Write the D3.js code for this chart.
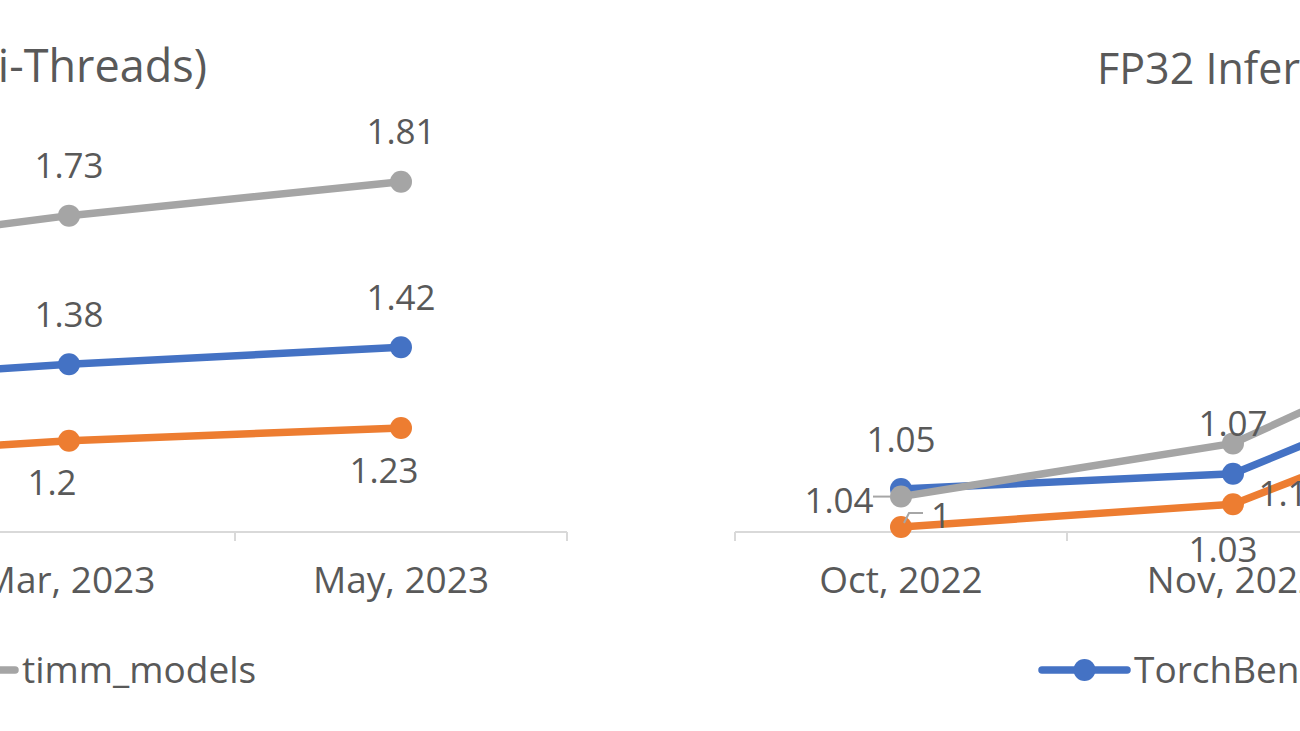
<!DOCTYPE html>
<html>
<head>
<meta charset="utf-8">
<script src="https://cdn.jsdelivr.net/npm/d3@7/dist/d3.min.js"></script>
<style>
  html, body { margin: 0; padding: 0; background: #fff; }
  svg { display: block; }
  text { font-family: "Open Sans", Lato, sans-serif; fill: #595959; }
</style>
</head>
<body>
<svg id="chart" width="1300" height="731"></svg>
<script>
// ---------------- DATA ----------------
const categories = ["Oct, 2022", "Nov, 2022", "Jan, 2023", "Mar, 2023", "May, 2023"];
const seriesNames = ["TorchBench", "HuggingFace", "timm_models"];

// Left chart: FP32 Inference Geomean Speedup (Single-Socket Multi-Threads)
const leftTitle = "FP32 Inference Geomean Speedup (Single-Socket Multi-Threads)";
const leftCats = ["Jan, 2023", "Mar, 2023", "May, 2023"];
const leftTorchBench = [1.33, 1.38, 1.42];
const leftHuggingFace = [1.15, 1.20, 1.23];
const leftTimm = [1.63, 1.73, 1.81];

// Right chart: FP32 Inference Geomean Speedup (Single-Core Single-Thread)
const rightTitle = "FP32 Inference Geomean Speedup (Single-Core Single-Thread)";
const rightCats = ["Oct, 2022", "Nov, 2022", "Jan, 2023"];
const rightTorchBench = [1.05, 1.07, 1.25];
const rightHuggingFace = [1.00, 1.03, 1.20];
const rightTimm = [1.04, 1.11, 1.31];

// ---------------- STYLE ----------------
const colors = { TorchBench: "#4472C4", HuggingFace: "#ED7D31", timm_models: "#A5A5A5" };
const textColor = "#595959";
const axisColor = "#D9D9D9";
const lineWidth = 7.5;
const markerR = 11;
const labelFont = 35, tickFont = 37, legendFont = 37, titleFontLeft = 45, titleFontRight = 43;

// label placement (dx, dy of label centre relative to point)
const above = { dx: 0, dy: -50 };
const belowOrange = { dx: -17, dy: 42 };
const leftPlacement = {
  TorchBench: [above, above, above],
  HuggingFace: [belowOrange, belowOrange, belowOrange],
  timm_models: [above, above, above]
};
const rightPlacement = {
  TorchBench: [above, above, above],
  HuggingFace: [
    { dx: 40, dy: -12, leader: [[3, -4], [8, -14], [22, -14]] },
    { dx: -10, dy: 45 },
    belowOrange
  ],
  timm_models: [
    { dx: -62, dy: 4, leader: [[-28, 0], [-10, 0]] },
    { dx: 60, dy: 50 },
    above
  ]
};

const svg = d3.select("#chart");

function drawChart(cfg) {
  const g = svg.append("g");
  const x = d3.scaleBand().domain(categories).range(cfg.xRange).paddingInner(0).paddingOuter(0);
  const y = d3.scaleLinear().domain(cfg.yDomain).range(cfg.yRange);
  const axisY = cfg.yRange[0];

  // title
  g.append("text")
    .attr("x", cfg.titleX).attr("y", cfg.titleY)
    .attr("text-anchor", cfg.titleAnchor)
    .style("font-size", cfg.titleFont + "px")
    .text(cfg.title);

  // category axis
  const axis = d3.axisBottom(x).tickSize(0).tickPadding(35);
  const ag = g.append("g").attr("transform", `translate(0,${axisY})`).call(axis);
  ag.select(".domain").remove();
  ag.selectAll("text").style("font-size", tickFont + "px").style("font-family", "Open Sans").attr("fill", textColor);
  g.append("line")
    .attr("x1", cfg.xRange[0]).attr("x2", cfg.xRange[1])
    .attr("y1", axisY).attr("y2", axisY)
    .attr("stroke", axisColor).attr("stroke-width", 2);
  const bounds = categories.map(c => x(c)).concat([x(categories[categories.length - 1]) + x.bandwidth()]);
  g.selectAll(".tk").data(bounds).enter().append("line")
    .attr("x1", d => d).attr("x2", d => d)
    .attr("y1", axisY).attr("y2", axisY + 9)
    .attr("stroke", axisColor).attr("stroke-width", 2);

  // series
  const series = seriesNames.map((name, i) => ({
    name,
    values: cfg.cats.map((c, j) => ({ cat: c, v: cfg.values[i][j] })),
    place: cfg.placement[name]
  }));
  const line = d3.line().x(d => x(d.cat) + x.bandwidth() / 2).y(d => y(d.v));

  series.forEach(s => {
    g.append("path").datum(s.values)
      .attr("d", line).attr("fill", "none")
      .attr("stroke", colors[s.name]).attr("stroke-width", lineWidth)
      .attr("stroke-linejoin", "round");
    g.selectAll(null).data(s.values).enter().append("circle")
      .attr("cx", d => x(d.cat) + x.bandwidth() / 2)
      .attr("cy", d => y(d.v))
      .attr("r", markerR).attr("fill", colors[s.name]);
  });

  // data labels
  series.forEach(s => {
    s.values.forEach((d, j) => {
      const p = s.place[j];
      const px = x(d.cat) + x.bandwidth() / 2, py = y(d.v);
      if (p.leader) {
        g.append("path")
          .attr("d", d3.line()(p.leader.map(q => [px + q[0], py + q[1]])))
          .attr("fill", "none").attr("stroke", "#A6A6A6").attr("stroke-width", 2);
      }
      g.append("text")
        .attr("x", px + p.dx).attr("y", py + p.dy)
        .attr("text-anchor", "middle").attr("dy", "0.36em")
        .style("font-size", labelFont + "px")
        .text(String(d.v));
    });
  });

  // legend
  const lg = g.append("g");
  const items = seriesNames.map(n => {
    const t = lg.append("text").style("font-size", legendFont + "px").attr("y", cfg.legendY + 13).text(n);
    return { name: n, t, w: t.node().getComputedTextLength() };
  });
  const lineLen = 85, gapText = 7, gapItem = 26;
  const xs = [];
  if (cfg.legendAnchor === "lastTextStart") {
    xs[items.length - 1] = cfg.legendX - gapText - lineLen;
    for (let k = items.length - 2; k >= 0; k--) {
      xs[k] = xs[k + 1] - gapItem - items[k].w - gapText - lineLen;
    }
  } else {
    let pos = cfg.legendX;
    items.forEach((it, k) => { xs[k] = pos; pos += lineLen + gapText + it.w + gapItem; });
  }
  items.forEach((it, k) => {
    const x0 = xs[k];
    lg.append("line").attr("x1", x0).attr("x2", x0 + lineLen)
      .attr("y1", cfg.legendY).attr("y2", cfg.legendY)
      .attr("stroke", colors[it.name]).attr("stroke-width", lineWidth).attr("stroke-linecap", "round");
    lg.append("circle").attr("cx", x0 + lineLen / 2).attr("cy", cfg.legendY).attr("r", markerR).attr("fill", colors[it.name]);
    it.t.attr("x", x0 + lineLen + gapText);
  });
}

drawChart({
  title: leftTitle, titleX: 207, titleY: 82, titleAnchor: "end", titleFont: titleFontLeft,
  cats: leftCats,
  values: [leftTorchBench, leftHuggingFace, leftTimm],
  placement: leftPlacement,
  xRange: [567 - 5 * 332, 567],
  yDomain: [0.985, 2.0], yRange: [532, 101],
  legendY: 670, legendX: 22, legendAnchor: "lastTextStart"
});

drawChart({
  title: rightTitle, titleX: 1097, titleY: 84, titleAnchor: "start", titleFont: titleFontRight,
  cats: rightCats,
  values: [rightTorchBench, rightHuggingFace, rightTimm],
  placement: rightPlacement,
  xRange: [735, 735 + 5 * 332],
  yDomain: [0.9934, 1.5], yRange: [532, 532 - 0.5066 * 760],
  legendY: 670, legendX: 1042, legendAnchor: "start"
});
</script>
</body>
</html>
